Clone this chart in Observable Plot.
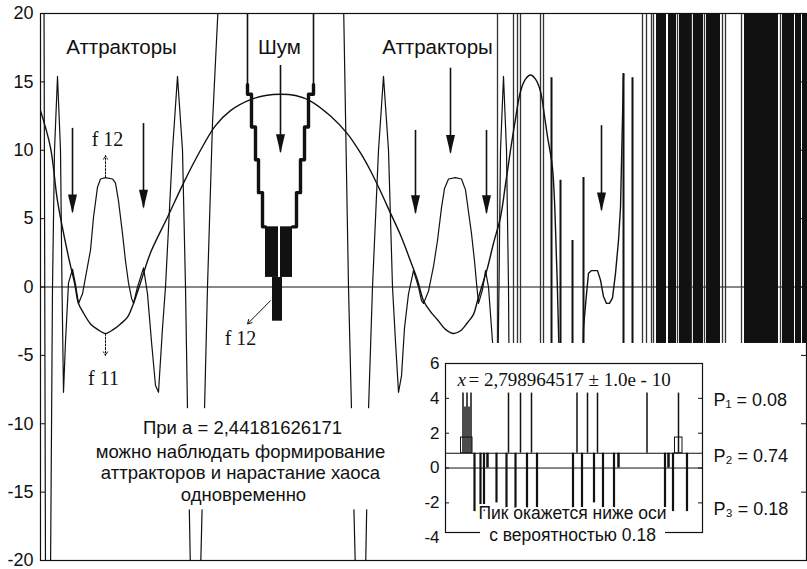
<!DOCTYPE html>
<html><head><meta charset="utf-8">
<script src="https://cdn.jsdelivr.net/npm/d3@7"></script>
<script src="https://cdn.jsdelivr.net/npm/@observablehq/plot@0.6"></script>
<style>
body{margin:0;background:#fff;}
#wrap{position:relative;width:807px;height:569px;overflow:hidden;background:#fff;}
#inset{position:absolute;left:417px;top:343px;}
svg{display:block}
</style></head><body>
<div id="wrap"><div id="main"></div><div id="inset"></div></div>
<script>
// ---------------- main chart data ----------------
const yTicks = [20, 15, 10, 5, 0, -5, -10, -15, -20];

// smooth branch (f 11 curve / big arch)
const f11X = [40,50,57,68,74,78,83,90,97,105,113,120,127,133,140,150,167,183,200,215,230,250,265,280,295,310,330,347,360,370,380,390,400,410,417,423,430,437,445,453,460,467,473,477,482,487,493,500,505,510,515,520,525,530,535,540,544,547,552,556,559,562];
const f11Y = [12.9,10.2,6.3,2.2,0.3,-1.2,-1.9,-2.7,-3.1,-3.4,-3.1,-2.7,-2.2,-1.2,0.3,2.5,5.1,7.6,10,11.8,12.9,13.7,14.0,14.1,14.0,13.6,12.5,11.2,9.8,8.5,7,5.4,3.8,1.9,0.5,-1.0,-1.8,-2.4,-3.1,-3.4,-3.2,-2.6,-2.0,-1.0,0.2,1.4,3.2,5.1,7.5,10,12.3,14.3,15.2,15.5,15.2,14.3,12.5,11,8.7,2,-6,-21];

// third attractor (small W near zero)
const f13X = [579,583,586,588,591,597,600,603,606,609,612,615,618,620,623];
const f13Y = [-21,-3,-0.5,1.0,1.2,1.2,0.5,-0.7,-1.2,-1.2,-0.8,1,3.4,5.8,15.6];

// left orbit (first attractor group, f 12 hump)
const orbitLX = [43.5,45,49,50,52,54,57,60,61.5,63,65,68,72,75,78,82,85,90,93,97,100,105,112,115,118,122,125,128,131,133,137,143,147,151,155,158,162,165,172,177,182,185,187,190,200,204,207,212,218];
const orbitLY = [21,-21,-21,-21,0,10,15.4,10,0,-7.7,-4,0.3,1.3,0.2,-1.2,-0.5,0.7,2.7,5.1,7.3,7.9,8.0,7.9,7.6,6.3,3.9,1.9,0.3,-0.8,-1.2,0,1.4,-0.5,-4,-7.2,-7.7,-3,0,10,15.4,10,0,-9,-21,-21,-9,0,12,21];

// right orbit (second attractor group)
const orbitRX = [343,348,351,355,365,368,372,378,383,388,392,395,398,401,404,408,413,418,421,423,428,433,437,441,444,448,455,461,465,468,471,474,476,478,482,485,488,492,495,497,498.5,500,503,506,508,510];
const orbitRY = [21,0,-9,-21,-21,-9,0,10,15.4,10,0,-4,-7.7,-6.5,-3,-0.5,1.2,0,-1.0,-1.2,-0.3,1.5,3.4,5.8,7.2,7.9,8.0,7.9,7.1,5.5,3.9,1.9,0.3,-1.2,-0.2,1.2,0,-4,-7.2,-7.7,0,10,15.4,10,0,-21];

// noise funnel ("Шум")
const funnelTopX = [247,247,313,313];
const funnelTopY = [21,14.1,14.1,21];
const funnelLX = [247,247,251,251,255,255,258,258,262,262,265];
const funnelLY = [14.8,14.1,14.1,11.7,11.7,9.3,9.3,6.9,6.9,4.4,4.4];
const funnelRX = [313,313,308,308,304,304,300,300,296,296,292];
const funnelRY = [14.8,14.1,14.1,11.7,11.7,9.3,9.3,6.9,6.9,4.4,4.4];
const noiseX1 = [265,280,272];
const noiseX2 = [278,292,282];
const noiseY1 = [4.4,4.4,0.7];
const noiseY2 = [0.7,0.7,-2.5];

// chaotic region
const chaosLines = [497,513,517,520,540,543,642,646,651,653,677,691,704,722,725,741,780];
const chaosBandX1 = [656,668,679,693,706,744,782,795,802];
const chaosBandX2 = [666,676,691,703,720,778,794,801,806];
const spikeX = [551,560,572,583,623,632];
const spikePeak = [15.3,7.8,3.4,8.0,15.6,15.3];

// arrows
const arrowX = [72,143,280,415,450,486,601];
const arrowTop = [11.6,11.95,16.2,11.45,16.0,11.45,11.8];
const arrowTip = [5.45,5.8,9.85,5.4,9.8,5.4,5.6];
const smallArrowX1 = [105,105,270];
const smallArrowY1 = [8.0,-3.4,-1.0];
const smallArrowX2 = [105,105,247];
const smallArrowY2 = [9.6,-5.0,-2.7];

// white boxes (text panel, inset panel)
const boxX1 = [78,424];
const boxX2 = [412,806];
const boxY1 = [-8.9,-4.13];
const boxY2 = [-16.3,-20];

// labels
const headLabels = ["Аттракторы","Шум","Аттракторы"];
const headX = [121,279,437];
const headY = [17.5,17.5,17.5];
const fLabels = ["f 12","f 11","f 12"];
const fX = [107,103,240];
const fY = [10.75,-6.7,-3.8];
const noteLines = ["При а = 2,44181626171","можно наблюдать формирование","аттракторов и нарастание хаоса","одновременно"];
const noteX = [242,240,240,243];
const noteY = [-10.35,-12.1,-13.64,-15.25];

// ---------------- inset data ----------------
const insetYTicks = [6,4,2,0,-2,-4];
const insetBase = [0.85];
const upSpikeX = [462.5,464.5,466.5,468.5,470.5,508,520,531,576.5,587,597,646.5,678];
const upSpikePeak = [4.3,3.5,4.3,3.5,4.3,4.3,4.3,4.3,4.3,4.3,4.3,4.3,4.3];
const downSpikeX = [474,480,483.5,496,506,515,526.5,536.5,572.5,581.5,593.5,602.5,613.5,664.5,672.5,686.5];
const downSpikeLow = [-2.5,-2.5,-2.5,-2.0,-2.5,-2.5,-2.5,-2.5,-2.5,-2.5,-2.0,-2.5,-2.5,-2.5,-2.5,-2.5];
const zeroDipX = [487,618,668];
const shoulderX1 = [460.5,674.5];
const shoulderX2 = [472,682];
const shoulderTop = [1.75,1.75];
const pLabels = ["P\u2081 = 0.08","P\u2082 = 0.74","P\u2083 = 0.18"];
const pY = [3.87,0.70,-2.35];
const insetNotes = ["Пик окажется ниже оси","с вероятностью 0.18"];
const insetNoteY = [-2.62,-3.85];

// ---------------- build tables ----------------
const pts = (xs, ys) => xs.map((x, i) => ({x, y: ys[i]}));
const f11 = pts(f11X, f11Y);
const f13 = pts(f13X, f13Y);
const orbitL = pts(orbitLX, orbitLY);
const orbitR = pts(orbitRX, orbitRY);
const funnelTop = pts(funnelTopX, funnelTopY);
const funnelL = pts(funnelLX, funnelLY);
const funnelR = pts(funnelRX, funnelRY);
const noise = noiseX1.map((x1, i) => ({x1, x2: noiseX2[i], y1: noiseY1[i], y2: noiseY2[i]}));
const bands = chaosBandX1.map((x1, i) => ({x1, x2: chaosBandX2[i]}));
const spikes = spikeX.map((x, i) => ({x, peak: spikePeak[i]}));
const arrows = arrowX.map((x, i) => ({x, top: arrowTop[i], tip: arrowTip[i]}));
const smallArrows = smallArrowX1.map((x1, i) => ({x1, y1: smallArrowY1[i], x2: smallArrowX2[i], y2: smallArrowY2[i]}));
const boxes = boxX1.map((x1, i) => ({x1, x2: boxX2[i], y1: boxY1[i], y2: boxY2[i]}));
const heads = headLabels.map((t, i) => ({t, x: headX[i], y: headY[i]}));
const fl = fLabels.map((t, i) => ({t, x: fX[i], y: fY[i]}));
const notes = noteLines.map((t, i) => ({t, x: noteX[i], y: noteY[i]}));

const headDown = {draw(ctx) { ctx.moveTo(0, 1); ctx.lineTo(-4.5, -18); ctx.lineTo(4.5, -18); ctx.closePath(); }};
const ink = "#111";
const sans = "'Liberation Sans', Arial, sans-serif";
const serif = "'Liberation Serif', 'Times New Roman', serif";

const main = Plot.plot({
  width: 807, height: 569,
  marginLeft: 40, marginRight: 1, marginTop: 13, marginBottom: 9,
  x: {domain: [40, 806], axis: null},
  y: {domain: [-20, 20], axis: null},
  style: {fontFamily: sans, background: "white", color: ink},
  marks: [
    Plot.ruleY([0], {stroke: ink, strokeWidth: 1}),
    Plot.rect(bands, {x1: "x1", x2: "x2", y1: () => -20, y2: () => 20, fill: ink}),
    Plot.ruleX(chaosLines, {stroke: "#333", strokeWidth: 1.3}),
    Plot.ruleX(spikes, {x: "x", y1: () => -20, y2: "peak", stroke: ink, strokeWidth: 2}),
    Plot.line(f11, {x: "x", y: "y", curve: "catmull-rom", stroke: ink, strokeWidth: 1.4, clip: true}),
    Plot.line(f13, {x: "x", y: "y", stroke: ink, strokeWidth: 1.4, clip: true}),
    Plot.line(orbitL, {x: "x", y: "y", stroke: ink, strokeWidth: 1.2, clip: true}),
    Plot.line(orbitR, {x: "x", y: "y", stroke: ink, strokeWidth: 1.2, clip: true}),
    Plot.line(funnelTop, {x: "x", y: "y", z: d => d.x < 280, stroke: ink, strokeWidth: 1.6, clip: true}),
    Plot.line(funnelL, {x: "x", y: "y", stroke: ink, strokeWidth: 3.4, clip: true}),
    Plot.line(funnelR, {x: "x", y: "y", stroke: ink, strokeWidth: 3.4, clip: true}),
    Plot.rect(noise, {x1: "x1", x2: "x2", y1: "y1", y2: "y2", fill: ink}),
    Plot.rect(boxes, {x1: "x1", x2: "x2", y1: "y1", y2: "y2", fill: "white"}),
    Plot.ruleX(arrows, {x: "x", y1: "tip", y2: "top", stroke: ink, strokeWidth: 1.6}),
    Plot.dot(arrows, {x: "x", y: "tip", symbol: headDown, fill: ink, stroke: "none", r: 5}),
    Plot.arrow(smallArrows.slice(0, 2), {x1: "x1", y1: "y1", x2: "x2", y2: "y2", stroke: ink, strokeWidth: 1, strokeDasharray: "2,1.5", headLength: 6}),
    Plot.arrow(smallArrows.slice(2), {x1: "x1", y1: "y1", x2: "x2", y2: "y2", stroke: ink, strokeWidth: 1, headLength: 7}),
    Plot.text(heads, {x: "x", y: "y", text: "t", fontSize: 20.5, fill: ink, fontFamily: sans}),
    Plot.text(fl, {x: "x", y: "y", text: "t", fontSize: 20, fill: ink, fontFamily: serif}),
    Plot.text(notes, {x: "x", y: "y", text: "t", fontSize: 18.5, fill: ink, fontFamily: sans}),
    Plot.frame({stroke: ink, strokeWidth: 1.2}),
    Plot.ruleY(yTicks.slice(1, -1), {x1: () => 40, x2: () => 45, stroke: ink}),
    Plot.ruleY(yTicks.slice(1, -1), {x1: () => 801, x2: () => 806, stroke: ink}),
    Plot.text(yTicks, {y: d => d, text: d => String(d), frameAnchor: "left", textAnchor: "end", dx: -7, fontSize: 18, fill: ink})
  ]
});
document.getElementById("main").appendChild(main);

// ---------------- inset ----------------
const ups = upSpikeX.map((x, i) => ({x, peak: upSpikePeak[i]}));
const downs = downSpikeX.map((x, i) => ({x, low: downSpikeLow[i]}));
const shoulders = shoulderX1.map((x1, i) => ({x1, x2: shoulderX2[i], top: shoulderTop[i]}));
const pl = pLabels.map((t, i) => ({t, y: pY[i]}));
const inotes = insetNotes.map((t, i) => ({t, y: insetNoteY[i]}));

const inset = Plot.plot({
  width: 390, height: 219,
  marginLeft: 28, marginRight: 105, marginTop: 20, marginBottom: 30,
  x: {domain: [445, 702], axis: null},
  y: {domain: [-3.7, 6], axis: null},
  style: {fontFamily: sans, background: "transparent", color: ink, overflow: "visible"},
  marks: [
    Plot.ruleY([0], {stroke: ink, strokeWidth: 1}),
    Plot.ruleY(insetBase, {stroke: ink, strokeWidth: 1.1}),
    Plot.rect(shoulders, {x1: "x1", x2: "x2", y1: () => insetBase[0], y2: "top", fill: "white", stroke: ink, strokeWidth: 1}),
    Plot.ruleX(ups, {x: "x", y1: () => insetBase[0], y2: "peak", stroke: ink, strokeWidth: 1.5}),
    Plot.ruleX(downs, {x: "x", y1: () => insetBase[0], y2: "low", stroke: ink, strokeWidth: 2.2}),
    Plot.ruleX(zeroDipX, {y1: () => insetBase[0], y2: () => 0, stroke: ink, strokeWidth: 2.5}),
    Plot.frame({stroke: ink, strokeWidth: 1.2}),
    Plot.ruleY(insetYTicks.filter(t => t > -3.7 && t < 6), {x1: () => 445, x2: () => 449, stroke: ink}),
    Plot.ruleY(insetYTicks.filter(t => t > -3.7 && t < 6), {x1: () => 698, x2: () => 702, stroke: ink}),
    Plot.text(insetYTicks, {y: d => d, text: d => String(d), frameAnchor: "left", textAnchor: "end", dx: -6, fontSize: 17, fill: ink}),
    Plot.text(["x"], {x: () => 457, y: () => 5.08, text: d => d, textAnchor: "start", fontSize: 19, fontStyle: "italic", fontFamily: serif, fill: ink}),
    Plot.text(["= 2,798964517 ± 1.0e - 10"], {x: () => 468, y: () => 5.08, text: d => d, textAnchor: "start", fontSize: 19, fontFamily: serif, fill: ink}),
    Plot.rect([0], {x1: () => 480, x2: () => 665, y1: () => -3.35, y2: () => -4.5, fill: "white"}),
    Plot.text(inotes, {x: () => 572, y: "y", text: "t", fontSize: 17.5, fill: ink, stroke: "white", strokeWidth: 4}),
    Plot.text(pl, {x: () => 713, y: "y", text: "t", textAnchor: "start", fontSize: 18, fill: ink})
  ]
});
document.getElementById("inset").appendChild(inset);
</script>
</body></html>
